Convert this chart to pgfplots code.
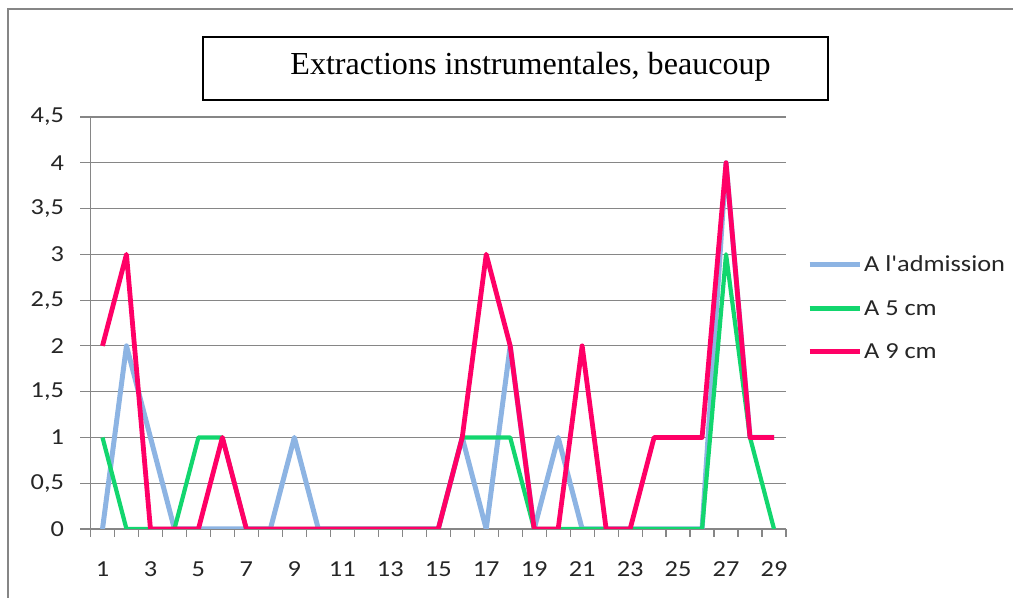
\documentclass[border=0pt]{standalone}
\usepackage{pgfplots}
\pgfplotsset{compat=1.18}
\usepackage{fontspec}
\setmainfont{Liberation Serif}
\newfontfamily\calib[FakeStretch=1.15]{Carlito}
\definecolor{cblue}{RGB}{141,180,227}
\definecolor{cgreen}{RGB}{18,214,110}
\definecolor{cpink}{RGB}{255,0,102}
\definecolor{cgrid}{RGB}{134,134,134}

\pgfplotstableread{
x  adm  five nine
1  0    1    2
2  2    0    3
3  1    0    0
4  0    0    0
5  0    1    0
6  0    1    1
7  0    0    0
8  0    0    0
9  1    0    0
10 0    0    0
11 0    0    0
12 0    0    0
13 0    0    0
14 0    0    0
15 0    0    0
16 1    1    1
17 0    1    3
18 2    1    2
19 0    0    0
20 1    0    0
21 0    0    2
22 0    0    0
23 0    0    0
24 0    0    1
25 0    0    1
26 0    0    1
27 4    3    4
28 1    1    1
29 1    0    1
}\datatable

\begin{document}
\begin{tikzpicture}[x=1bp,y=1bp]
\useasboundingbox (0,0) rectangle (1013,598);
\draw[cgrid, line width=2bp] (8,-2) -- (8,589) -- (1015,589);
\draw[black, line width=2bp] (203,498) rectangle (828,561);
\node[font=\fontsize{32.2}{37}\selectfont] at (530.5,531) {Extractions instrumentales, beaucoup};
\begin{axis}[
  at={(90.5bp,69bp)}, anchor=south west,
  scale only axis, width=695.5bp, height=412bp,
  xmin=0.5, xmax=29.5, ymin=0, ymax=4.5,
  axis x line*=bottom, axis y line*=left,
  axis line style={cgrid, line width=1.2bp, -},
  xtick={1,3,...,29},
  minor xtick={0.5,1.5,...,29.5},
  ytick={0,0.5,...,4.5},
  ymajorgrids, grid style={cgrid, line width=1.2bp},
  tick align=outside,
  major tick length=10bp, minor tick length=8bp,
  major x tick style={draw=none},
  minor x tick style={cgrid, line width=1.2bp},
  major y tick style={cgrid, line width=1.2bp},
  /pgf/number format/use comma,
  /pgf/number format/assume math mode=true,
  ticklabel style={font=\calib\fontsize{23}{26}\selectfont, text=black!85},
  yticklabel style={xshift=-13bp},
  xticklabel style={yshift=-19bp},
  legend style={at={(1.03,0.668)}, anchor=north west, draw=none, fill=none,
    font=\calib\fontsize{23}{26}\selectfont, text=black!85, row sep=23bp, inner sep=0pt},
  legend cell align=left,
  legend image code/.code={\draw[#1, line cap=butt] (0bp,0bp) -- (50bp,0bp);},
  every axis plot/.append style={line join=round},
]
\addplot[cblue, line width=5bp] table[x=x, y=adm] {\datatable};
\addlegendentry[xshift=-4bp]{A l'admission}
\addplot[cgreen, line width=4.2bp] table[x=x, y=five] {\datatable};
\addlegendentry[xshift=-4bp]{A 5 cm}
\addplot[cpink, line width=4.8bp] table[x=x, y=nine] {\datatable};
\addlegendentry[xshift=-4bp]{A 9 cm}
\end{axis}
\end{tikzpicture}
\end{document}
